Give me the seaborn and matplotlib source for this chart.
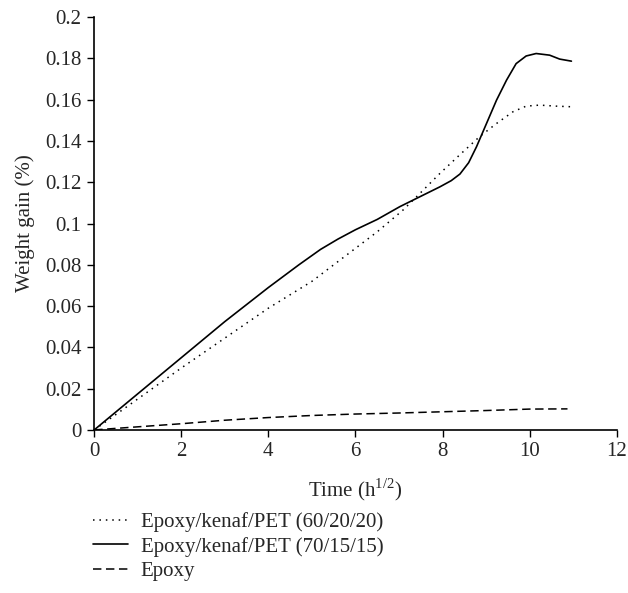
import numpy as np
import pandas as pd
import matplotlib
matplotlib.use("Agg")
import matplotlib.pyplot as plt
from matplotlib.ticker import FuncFormatter
import seaborn as sns

# -------------------------------
# Data
# -------------------------------
t_6020 = [0, 1, 2, 3, 4, 5, 6, 6.5, 7.09, 7.48, 7.94, 8.39, 8.85, 9.24, 9.62,
          9.92, 10.23, 10.61, 10.96]
w_6020 = [0, 0.015, 0.030, 0.0445, 0.059, 0.072, 0.088, 0.096, 0.1065, 0.1146,
          0.1243, 0.1332, 0.1421, 0.1485, 0.1542, 0.1569, 0.1574, 0.1569, 0.1566]

t_7015 = [0, 1, 2, 3, 4, 4.7, 5.2, 5.6, 6, 6.5, 7.02, 7.48, 7.94, 8.2, 8.4, 8.6,
          8.78, 9.01, 9.24, 9.47, 9.69, 9.92, 10.15, 10.46, 10.69, 10.96]
w_7015 = [0, 0.0175, 0.035, 0.0525, 0.069, 0.080, 0.0875, 0.0925, 0.097, 0.102,
          0.1082, 0.1130, 0.1178, 0.1208, 0.1240, 0.1295, 0.1372, 0.1485, 0.1598,
          0.1695, 0.1775, 0.1812, 0.1824, 0.1816, 0.1797, 0.1787]

t_epoxy = [0, 1, 2, 3, 4, 5, 6, 7, 8, 9, 10, 10.87]
w_epoxy = [0, 0.0015, 0.003, 0.0047, 0.006, 0.007, 0.0077, 0.0082, 0.0088,
           0.0094, 0.0101, 0.0102]

labels = ["Epoxy/kenaf/PET (60/20/20)", "Epoxy/kenaf/PET (70/15/15)", "Epoxy"]

# -------------------------------
# Style
# -------------------------------
sns.set_theme(style="ticks")
plt.rcParams['font.family'] = ['Liberation Serif', 'DejaVu Serif']
plt.rcParams['mathtext.fontset'] = 'custom'
plt.rcParams['mathtext.rm'] = 'Liberation Serif'

fs = 15
fig = plt.figure(figsize=(6.28, 5.93), dpi=100)
ax = fig.add_axes([0.150, 0.275, 0.832, 0.696])

sns.lineplot(x=t_6020, y=w_6020, ax=ax, color="black", lw=1.1,
             linestyle=(0, (1, 3.2)), label=labels[0])
sns.lineplot(x=t_7015, y=w_7015, ax=ax, color="black", lw=1.2,
             linestyle="-", label=labels[1])
sns.lineplot(x=t_epoxy, y=w_epoxy, ax=ax, color="black", lw=1.1,
             linestyle=(0, (5.5, 3)), label=labels[2])

ax.set_xlim(0, 12)
ax.set_ylim(0, 0.2)
ax.set_xticks(np.arange(0, 13, 2))
ax.set_yticks(np.arange(0, 0.201, 0.02))
ax.yaxis.set_major_formatter(FuncFormatter(lambda v, p: f"{v:g}"))
ax.tick_params(direction="out", length=5, width=1, pad=4, labelsize=fs, color="black")
for s in ["top", "right"]:
    ax.spines[s].set_visible(False)
for s in ["left", "bottom"]:
    ax.spines[s].set_linewidth(1.2)
    ax.spines[s].set_color("black")

ax.set_xlabel("Time (h$^{1/2}$)", fontsize=fs, labelpad=11)
ax.set_ylabel("Weight gain (%)", fontsize=fs, labelpad=7)

ax.legend(loc="upper left", bbox_to_anchor=(0.148, 0.136), bbox_transform=fig.transFigure,
          frameon=False, fontsize=fs, handlelength=1.7, handletextpad=0.6,
          labelspacing=0.22, borderaxespad=0, borderpad=0)

plt.savefig("out.png", dpi=100)
